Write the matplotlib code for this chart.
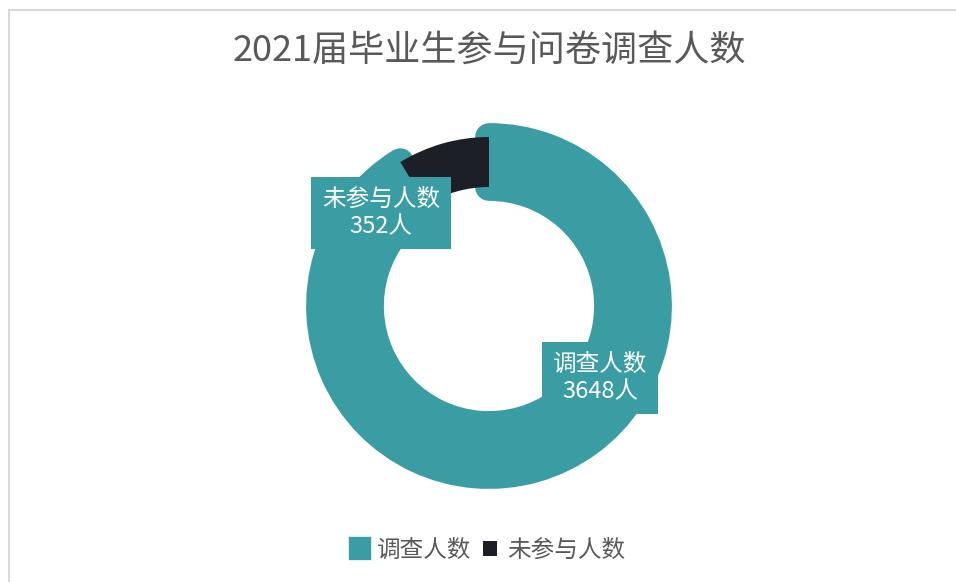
import matplotlib

matplotlib.use("Agg")
import matplotlib.pyplot as plt
from matplotlib.lines import Line2D
from matplotlib.patches import Patch

plt.rcParams["font.family"] = ["Noto Sans CJK SC", "DejaVu Sans"]

# --- 데이터 ---
title = "2021届毕业生参与问卷调查人数"
labels = ["调查人数", "未参与人数"]
values = [3648, 352]
colors = ["#3a9da3", "#1c1f26"]
text_gray = "#595959"

W, H = 956, 582
fig = plt.figure(figsize=(W / 100, H / 100), dpi=100)
ax = fig.add_axes([0, 0, 1, 1])

cx, cy = 489, H - 306          # 도넛 중심 (픽셀 좌표)
R_OUT, R_IN = 169, 119

wedges, _ = ax.pie(values, colors=colors, startangle=90, counterclock=False,
                   center=(cx, cy), radius=R_OUT,
                   wedgeprops=dict(width=R_OUT - R_IN))
# 엑셀식 두꺼운 테두리: 조사 인원 조각만
wedges[0].set_edgecolor(colors[0])
wedges[0].set_linewidth(20)
wedges[0].set_joinstyle("round")
wedges[0].set_zorder(1)
wedges[1].set_linewidth(0)
wedges[1].set_zorder(2)

ax.set_xlim(0, W)
ax.set_ylim(0, H)
ax.set_aspect("equal")
ax.axis("off")

# 데이터 레이블
box = dict(boxstyle="square,pad=0.45", fc=colors[0], ec="none")
ax.text(381, H - 213, f"{labels[1]}\n{values[1]}人", ha="center", va="center",
        color="white", fontsize=17, linespacing=1.25, bbox=box, zorder=5)
ax.text(600, H - 378, f"{labels[0]}\n{values[0]}人", ha="center", va="center",
        color="white", fontsize=17, linespacing=1.25, bbox=box, zorder=5)

fig.text(489 / W, 1 - 51 / H, title, ha="center", va="center",
         fontsize=26, color=text_gray, fontweight="light")

handles = [Patch(fc=colors[0], ec=colors[0], lw=6, joinstyle="round"),
           Patch(fc=colors[1], ec="none")]
fig.legend(handles, labels, loc="center", bbox_to_anchor=(489 / W, 1 - 550 / H),
           ncol=2, frameon=False, fontsize=17, labelcolor=text_gray,
           handlelength=0.6, handleheight=0.6, handletextpad=0.4,
           columnspacing=0.5)

# 테두리 (위, 왼쪽만 보임)
fig.add_artist(Line2D([9 / W, 1], [1 - 10 / H, 1 - 10 / H], color="#d9d9d9", lw=1.5))
fig.add_artist(Line2D([9 / W, 9 / W], [0, 1 - 10 / H], color="#d9d9d9", lw=1.5))

fig.savefig("out.png", dpi=100)
